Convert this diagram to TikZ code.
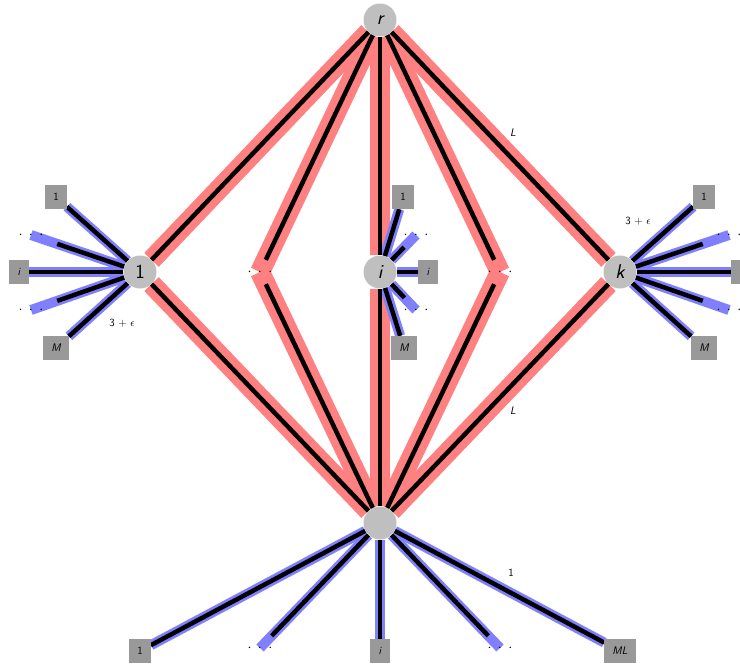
\documentclass[tikz,border=0pt]{standalone}
\pgfdeclarelayer{bg}
\pgfdeclarelayer{mid}
\pgfsetlayers{bg,mid,main}
\newcommand\threedots{$\cdot$\hspace{6.5pt}$\cdot$\hspace{6.5pt}$\cdot$}
\begin{document}
\begin{tikzpicture}[x=1pt,y=-1pt,
  hub/.style={circle,fill=black!25,minimum size=33pt,inner sep=0pt,font=\fontsize{20}{24}\selectfont\sffamily},
  leaf/.style={rectangle,fill=black!40,minimum width=20pt,minimum height=24pt,inner xsep=8pt,inner ysep=2pt,font=\fontsize{11}{13}\selectfont\sffamily},
  dotsnode/.style={rectangle,minimum width=52pt,minimum height=24pt,inner sep=0pt,font=\fontsize{15}{17}\selectfont},
  redband/.style={line width=20pt,draw=red!50},
  blueband/.style={line width=10pt,draw=blue!50},
  core/.style={line width=4.5pt,draw=black},
  lbl/.style={font=\fontsize{11}{13}\selectfont\sffamily}]
\useasboundingbox (0,0) rectangle (740,667);
% hubs
\node[hub] (r) at (380,20) {\itshape r};
\node[hub] (b) at (380,523) {};
\node[hub] (n1) at (140,272) {1};
\node[hub] (ni) at (380,272) {\itshape i};
\node[hub] (nk) at (620,272) {\itshape k};
\node[dotsnode] (d1) at (260,272) {\threedots};
\node[dotsnode] (d2) at (500,272) {\threedots};
% leaves of hub 1
\node[leaf] (a1) at (56,197) {1};
\node[dotsnode] (ad1) at (31,235) {\threedots};
\node[leaf] (ai) at (19,272) {\itshape i};
\node[dotsnode] (ad2) at (31,310) {\threedots};
\node[leaf] (aM) at (56,348) {\itshape M};
% leaves of hub i
\node[leaf] (c1) at (403,197) {1};
\node[dotsnode] (cd1) at (416,235) {\threedots};
\node[leaf] (ci) at (428,272) {\itshape i};
\node[dotsnode] (cd2) at (416,310) {\threedots};
\node[leaf] (cM) at (404,348) {\itshape M};
% leaves of hub k
\node[leaf] (k1) at (704,197) {1};
\node[dotsnode] (kd1) at (729,235) {\threedots};
\node[leaf] (ki) at (741,272) {\itshape i};
\node[dotsnode] (kd2) at (729,310) {\threedots};
\node[leaf] (kM) at (704,348) {\itshape M};
% leaves of bottom hub
\node[leaf] (b1) at (140,651) {1};
\node[dotsnode] (bd1) at (260,648) {\threedots};
\node[leaf] (bi) at (380,651) {\itshape i};
\node[dotsnode] (bd2) at (500,648) {\threedots};
\node[leaf] (bML) at (620,651) {\itshape ML};
% labels
\node[lbl] (e1) at (122,323) {3 + $\epsilon$};
\node[lbl] (e2) at (638,221) {3 + $\epsilon$};
\node[lbl] (L1) at (513,133) {\itshape L};
\node[lbl] (L2) at (513,411) {\itshape L};
\node[lbl] (o1) at (511,573) {1};
% bands
\begin{pgfonlayer}{bg}
\foreach \h in {r,b}{
  \foreach \t in {n1,ni,nk}{\draw[redband] (\h) -- (\t);}
  \foreach \t in {d1,d2}{\draw[redband] (\h) -- (\t.center);}
}
\foreach \h/\p in {n1/a,ni/c,nk/k}{
  \foreach \t in {1,i,M}{\draw[blueband] (\h) -- (\p\t);}
  \foreach \t in {d1,d2}{\draw[blueband] (\h) -- (\p\t.center);}
}
\foreach \t in {b1,bi,bML}{\draw[blueband] (b) -- (\t);}
\foreach \t in {bd1,bd2}{\draw[blueband] (b) -- (\t.center);}
\end{pgfonlayer}
% cores
\begin{pgfonlayer}{mid}
\foreach \h in {r,b}{
  \foreach \t in {n1,ni,nk,d1,d2}{\draw[core] (\h) -- (\t);}
}
\foreach \h/\p in {n1/a,ni/c,nk/k}{
  \foreach \t in {1,i,M,d1,d2}{\draw[core] (\h) -- (\p\t);}
}
\foreach \t in {b1,bi,bML,bd1,bd2}{\draw[core] (b) -- (\t);}
\end{pgfonlayer}
\end{tikzpicture}
\end{document}
